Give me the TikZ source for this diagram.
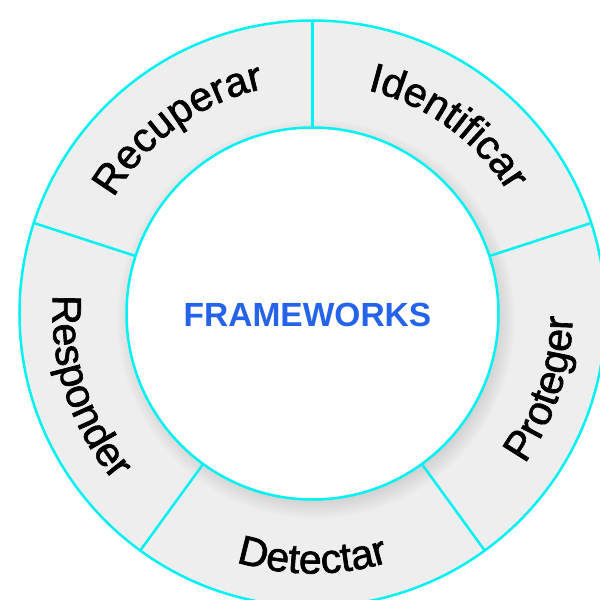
\documentclass[tikz,border=0pt]{standalone}
\usepackage{fontspec}
\setsansfont{Liberation Sans}
\newfontfamily\segfamily[FakeBold=1.6]{Liberation Sans}
\usepackage{xcolor}
\usetikzlibrary{positioning, shadows, decorations.text}

\definecolor{ringline}{RGB}{0,242,242}
\definecolor{ringfill}{RGB}{238,238,238}
\definecolor{titleblue}{RGB}{37,99,235}

\newcommand{\segfont}{\segfamily\fontsize{41}{48}\selectfont}

\begin{document}
\begin{tikzpicture}[x=1pt, y=1pt]
% style: ring_style
\tikzstyle{ring_style}=[circle,draw=ringline,line width=2.5pt,fill=ringfill,minimum size=586pt,inner sep=0pt,outer sep=0pt]
% style: hub_style
\tikzstyle{hub_style}=[circle,draw=ringline,line width=2.5pt,fill=white,minimum size=372pt,inner sep=0pt,outer sep=0pt,circular drop shadow={shadow xshift=3pt,shadow yshift=-5pt,shadow scale=1.07,opacity=0.4}]
% style: divider_style
\tikzstyle{divider_style}=[draw=ringline,line width=2.5pt]
% style: title_style
\tikzstyle{title_style}=[text=titleblue,font=\sffamily\bfseries\fontsize{33.5}{40}\selectfont]
% style: cw_label
\tikzstyle{cw_label}=[decorate,decoration={text along path,text align=center}]

\useasboundingbox (-312.5,-286.5) rectangle (287.5,313.5);

% node: ring
\node[ring_style] (ring) at (0, 0) {};
% node: hub
\node[hub_style] (hub) at (0, 0) {};
% node: title
\node[title_style] (title) at (-5, -1.5) {FRAMEWORKS};

% dividers between the five parts
\foreach \a in {90, 18, -54, -126, 162}
    \draw[divider_style] (hub.\a) -- (ring.\a);

% labels, upper half (clockwise)
\path[cw_label, decoration={text={|\segfont|Identificar}}]
    (104:230) arc[start angle=104, end angle=4, radius=230];
\path[cw_label, decoration={text={|\segfont|Recuperar}}]
    (176:230) arc[start angle=176, end angle=76, radius=230];

% labels, lower half (counter clockwise)
\path[cw_label, decoration={text={|\segfont|Proteger}}]
    (-68:260) arc[start angle=-68, end angle=32, radius=260];
\path[cw_label, decoration={text={|\segfont|Detectar}}]
    (-140:260) arc[start angle=-140, end angle=-40, radius=260];
\path[cw_label, decoration={text={|\segfont|Responder}}]
    (148:260) arc[start angle=148, end angle=248, radius=260];

\end{tikzpicture}
\end{document}
